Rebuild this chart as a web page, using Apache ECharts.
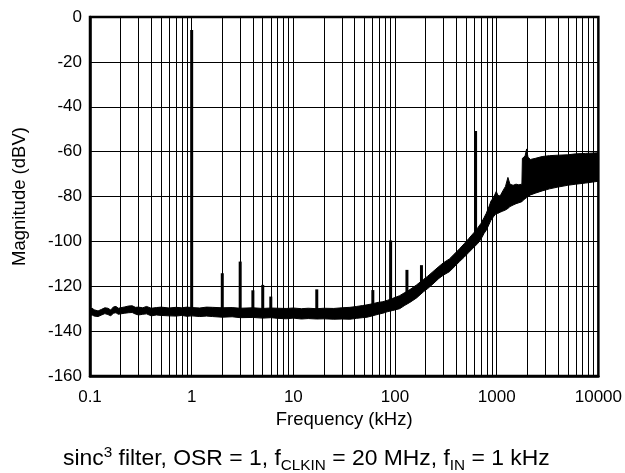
<!DOCTYPE html>
<html>
<head>
<meta charset="utf-8">
<script src="https://cdn.jsdelivr.net/npm/echarts@6/dist/echarts.min.js"></script>
<style>
html,body{margin:0;padding:0;background:#fff;}
#chart{width:625px;height:473px;}
</style>
</head>
<body>
<div id="chart"></div>
<script>
// ---- Data ----
var xTickLabels = ['0.1', '1', '10', '100', '1000', '10000'];
var yTicks = [0, -20, -40, -60, -80, -100, -120, -140, -160];
var minorGridFreq = [0.2,0.3,0.4,0.5,0.6,0.7,0.8,0.9, 2,3,4,5,6,7,8,9, 20,30,40,50,60,70,80,90,
  200,300,400,500,600,700,800,900, 2000,3000,4000,5000,6000,7000,8000,9000];

// Spectrum envelope (noise band): frequency (kHz), upper edge (dBV), lower edge (dBV)
var bandFreq = [0.1,0.105,0.11,0.12,0.13,0.14,0.15,0.16,0.17,0.18,0.19,0.2,0.22,0.24,0.26,0.28,0.3,0.33,0.36,0.4,0.45,0.5,0.6,0.7,0.8,0.9,
  1,1.2,1.4,1.6,2,2.5,3,4,5,6,7,8.5,10,12,14,17,20,25,30,36,42,48,53,60,68,76,85,95,111,125,140,163,190,210,236,270,300,343,390,431,480,530,600,650,700,750,790,840,880,930,990,
  1030,1080,1150,1220,1290,1350,1450,1550,1650,1770,1790,1900,1970,2030,2150,2400,2800,3300,4000,5000,6000,7500,10000];
var bandTop = [-130.2,-129.8,-130.5,-131.0,-130.3,-129.6,-129.8,-130.6,-129.2,-129.0,-129.8,-129.6,-129.2,-128.8,-128.7,-129.4,-129.3,-129.6,-129.0,-129.8,-129.5,-129.3,-129.7,-129.4,-129.6,-129.3,
  -129.5,-129.7,-129.3,-129.4,-129.6,-129.5,-129.8,-129.6,-129.9,-129.7,-129.8,-129.9,-129.7,-130.0,-129.8,-130.0,-129.8,-129.9,-129.6,-129.4,-129.0,-128.6,-128.3,-127.8,-127.2,-126.9,-126.2,-125.4,-124.2,-122.8,-121.5,-119.4,-117.0,-115.5,-113.5,-111.2,-109.5,-107.8,-105.3,-103.3,-101.0,-98.8,-96.0,-94.0,-92.0,-89.5,-87.5,-84.5,-82.0,-80.5,-77.8,
  -79.5,-79.8,-77.5,-75.5,-71.5,-74.5,-75.0,-74.5,-74.8,-74.5,-63.0,-62.0,-58.8,-62.5,-63.5,-63.0,-62.2,-61.8,-61.6,-61.4,-61.0,-60.8,-60.5];
var bandBottom = [-133.0,-132.8,-133.3,-133.5,-132.8,-132.2,-132.6,-133.2,-132.0,-131.8,-132.5,-132.3,-132.0,-131.8,-131.7,-132.4,-132.8,-132.5,-132.3,-133.2,-132.8,-133.0,-133.2,-133.3,-133.0,-133.4,
  -133.2,-133.5,-133.3,-133.5,-133.8,-133.6,-134.0,-133.9,-134.2,-134.0,-134.3,-134.5,-134.2,-134.6,-134.4,-134.6,-134.5,-134.7,-134.6,-134.7,-134.3,-134.0,-133.8,-133.2,-132.5,-132.0,-131.3,-130.8,-130.0,-128.5,-127.2,-125.2,-122.5,-121.0,-119.0,-116.5,-115.0,-113.5,-111.0,-109.0,-107.0,-105.0,-102.5,-101.0,-99.0,-96.5,-95.0,-92.5,-90.5,-89.0,-87.5,
  -87.5,-87.0,-86.5,-86.0,-85.3,-84.5,-83.8,-83.2,-82.8,-82.3,-82.0,-81.0,-80.5,-80.0,-79.3,-78.5,-77.5,-76.6,-75.8,-75.0,-74.5,-74.0,-73.2];

// Spurs / tones: frequency (kHz), peak (dBV), foot (dBV)
var spikeFreq = [1, 2, 3, 4, 5, 6, 17, 60.5, 90.5, 131, 182, 620];
var spikePeak = [-5.8, -114.2, -109, -121.8, -119.4, -124.6, -121.4, -121.7, -99.6, -112.7, -110.6, -50.8];
var spikeBase = [-131.5, -131.8, -132, -132, -132, -132, -132.3, -130.5, -128, -125, -119.8, -98];

var FONT = '"Liberation Sans", Arial, Helvetica, sans-serif';

var chart = echarts.init(document.getElementById('chart'), null, {renderer: 'canvas'});

var spikeData = spikeFreq.map(function (f, i) { return [f, spikePeak[i], spikeBase[i]]; });

var option = {
  animation: false,
  backgroundColor: '#fff',
  title: {
    left: 63,
    top: 445,
    padding: 0,
    text: '{a|sinc}{sup|3}{a| filter, OSR = 1, f}{sub|CLKIN}{a| = 20 MHz, f}{sub|IN}{a| = 1 kHz}',
    textStyle: {
      fontFamily: FONT,
      fontWeight: 'normal',
      color: '#000',
      rich: {
        a: {fontFamily: FONT, fontWeight: 'normal', fontSize: 22.9, lineHeight: 28, color: '#000'},
        sup: {fontFamily: FONT, fontWeight: 'normal', fontSize: 15.3, lineHeight: 15, color: '#000', verticalAlign: 'top'},
        sub: {fontFamily: FONT, fontWeight: 'normal', fontSize: 15.3, lineHeight: 15, color: '#000', verticalAlign: 'bottom'}
      }
    }
  },
  grid: {
    left: 90, right: 26, top: 17, bottom: 97,
    show: true, borderColor: '#000', borderWidth: 2.5, backgroundColor: 'transparent'
  },
  xAxis: {
    type: 'log',
    logBase: 10,
    min: 0.1,
    max: 10000,
    name: 'Frequency (kHz)',
    nameLocation: 'middle',
    nameGap: 29,
    nameTextStyle: {fontFamily: FONT, fontSize: 18.5, color: '#000'},
    axisLine: {show: true, onZero: false, lineStyle: {color: '#000', width: 2.5}},
    axisTick: {show: false},
    axisLabel: {
      fontFamily: FONT, fontSize: 17, color: '#000', margin: 13,
      formatter: function (v) {
        var s = String(+(+v).toPrecision(6));
        return xTickLabels.indexOf(s) >= 0 ? s : '';
      }
    },
    splitLine: {show: true, lineStyle: {color: '#000', width: 1}}
  },
  yAxis: {
    type: 'value',
    min: -160,
    max: 0,
    interval: 20,
    name: 'Magnitude (dBV)',
    nameLocation: 'middle',
    nameGap: 61,
    nameTextStyle: {fontFamily: FONT, fontSize: 18.5, color: '#000'},
    axisLine: {show: true, onZero: false, lineStyle: {color: '#000', width: 2.5}},
    axisTick: {show: false},
    axisLabel: {
      fontFamily: FONT, fontSize: 17, color: '#000', margin: 8,
      formatter: function (v) { return yTicks.indexOf(v) >= 0 ? String(v) : ''; }
    },
    splitLine: {show: true, lineStyle: {color: '#000', width: 1}}
  },
  series: [
    {
      // minor vertical grid lines (2..9 of each decade)
      type: 'line',
      data: [],
      z: 1,
      silent: true,
      markLine: {
        silent: true,
        symbol: ['none', 'none'],
        label: {show: false},
        lineStyle: {color: '#000', width: 1, type: 'solid'},
        emphasis: {disabled: true},
        animation: false,
        data: minorGridFreq.map(function (f) { return {xAxis: f}; })
      }
    },
    {
      // noise band of the spectrum
      type: 'custom',
      z: 3,
      silent: true,
      coordinateSystem: 'cartesian2d',
      data: [[1, -100]],
      renderItem: function (params, api) {
        var pts = [];
        for (var i = 0; i < bandFreq.length; i++) pts.push(api.coord([bandFreq[i], bandTop[i]]));
        for (var j = bandFreq.length - 1; j >= 0; j--) pts.push(api.coord([bandFreq[j], bandBottom[j]]));
        return {
          type: 'polygon',
          shape: {points: pts},
          style: {fill: '#000', stroke: '#000', lineWidth: 1, lineJoin: 'round'}
        };
      }
    },
    {
      // spurs and the fundamental tone
      type: 'custom',
      z: 4,
      silent: true,
      coordinateSystem: 'cartesian2d',
      data: spikeData,
      renderItem: function (params, api) {
        var f = api.value(0);
        var p1 = api.coord([f, api.value(1)]);
        var p2 = api.coord([f, api.value(2)]);
        return {
          type: 'line',
          shape: {x1: p1[0], y1: p1[1], x2: p2[0], y2: p2[1]},
          style: {stroke: '#000', lineWidth: 3, lineCap: 'butt'}
        };
      }
    }
  ]
};
chart.setOption(option);
</script>
</body>
</html>
